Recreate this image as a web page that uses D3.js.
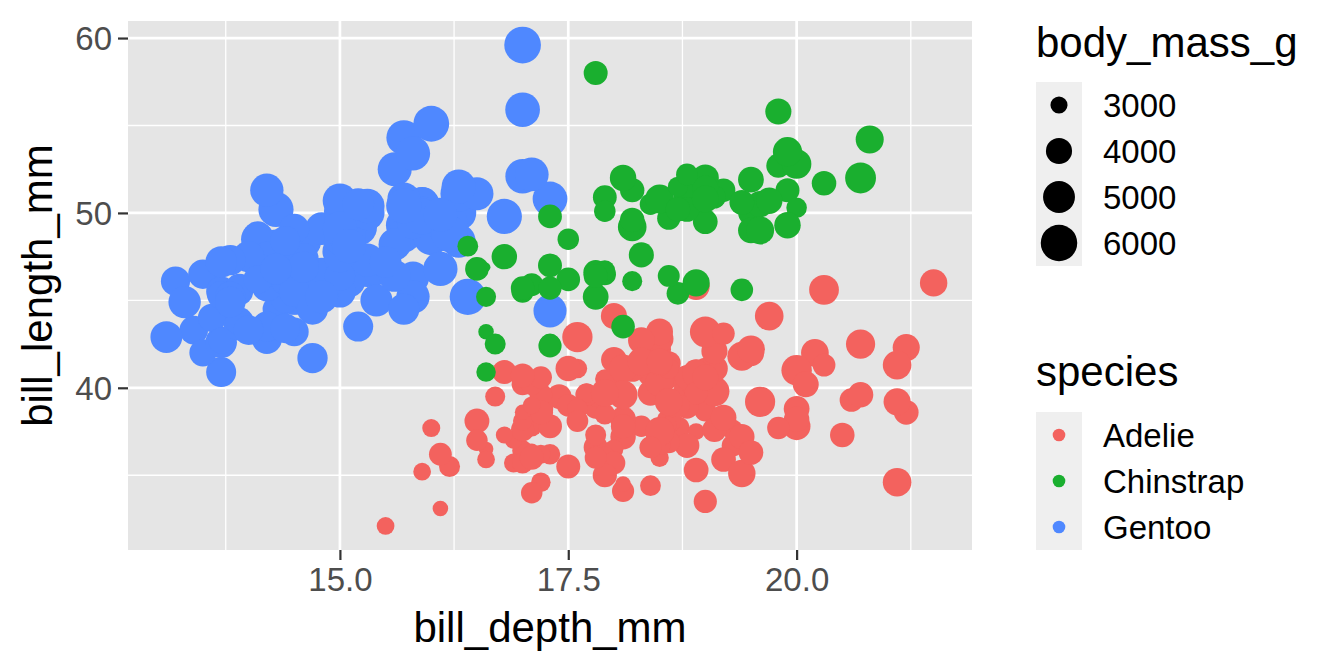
<!DOCTYPE html>
<html>
<head>
<meta charset="utf-8">
<script src="https://cdn.jsdelivr.net/npm/d3@7"></script>
<style>
  body { margin: 0; background: #fff; }
  svg { display: block; font-family: "Liberation Sans", Arial, sans-serif; }
</style>
</head>
<body>
<svg id="chart" width="1344" height="672"></svg>
<script>
// [bill_length_mm, bill_depth_mm, body_mass_g]
const adelie = [
  [39.1,18.7,3750],[39.5,17.4,3800],[40.3,18.0,3250],[36.7,19.3,3450],[39.3,20.6,3650],
  [38.9,17.8,3625],[39.2,19.6,4675],[34.1,18.1,3475],[42.0,20.2,4250],[37.8,17.1,3300],
  [37.8,17.3,3700],[41.1,17.6,3200],[38.6,21.2,3800],[34.6,21.1,4400],[36.6,17.8,3700],
  [38.7,19.0,3450],[42.5,20.7,4500],[34.4,18.4,3325],[46.0,21.5,4200],[37.8,18.3,3400],
  [37.7,18.7,3600],[35.9,19.2,3800],[38.2,18.1,3950],[38.8,17.2,3800],[35.3,18.9,3800],
  [40.6,18.6,3550],[40.5,17.9,3200],[37.9,18.6,3150],[40.5,18.9,3950],[39.5,16.7,3250],
  [37.2,18.1,3900],[39.5,17.8,3300],[40.9,18.9,3900],[36.4,17.0,3325],[39.2,21.1,4150],
  [38.8,20.0,3950],[42.2,18.5,3550],[37.6,19.3,3300],[39.8,19.1,4650],[36.5,18.0,3150],
  [40.8,18.4,3900],[36.0,18.5,3100],[44.1,19.7,4400],[37.0,16.9,3000],[39.6,18.8,4600],
  [41.1,19.0,3425],[37.5,18.9,2975],[36.0,17.9,3450],[42.3,21.2,4150],[39.6,17.7,3500],
  [40.1,18.9,4300],[35.0,17.9,3450],[42.0,19.5,4050],[34.5,18.1,2900],[41.4,18.6,3700],
  [39.0,17.5,3550],[40.6,18.8,3800],[36.5,16.6,2850],[37.6,19.1,3750],[35.7,16.9,3150],
  [41.3,21.1,4400],[37.6,17.0,3600],[41.1,18.2,4050],[36.4,17.1,2850],[41.6,18.0,3950],
  [35.5,16.2,3350],[41.1,19.1,4100],[35.9,16.6,3050],[41.8,19.4,4450],[33.5,19.0,3600],
  [39.7,18.4,3900],[39.6,17.2,3550],[45.8,18.9,4150],[35.5,17.5,3700],[42.8,18.5,4250],
  [40.9,16.8,3700],[37.2,19.4,3900],[36.2,16.1,3550],[42.1,19.1,4000],[34.6,17.2,3200],
  [42.9,17.6,4700],[36.7,18.8,3800],[35.1,19.4,4200],[37.3,17.8,3350],[41.3,20.3,3550],
  [36.3,19.5,3800],[36.9,18.6,3500],[38.3,19.2,3950],[38.9,18.8,3600],[35.7,18.0,3550],
  [41.1,18.1,4300],[34.0,17.1,3400],[39.6,18.1,4450],[36.2,17.3,3300],[40.8,18.9,4300],
  [38.1,18.6,3700],[40.3,18.5,4350],[33.1,16.1,2900],[43.2,18.5,4100],[35.0,17.9,3725],
  [41.0,20.0,4725],[37.7,16.0,3075],[37.8,20.0,4250],[37.9,18.6,2925],[39.7,18.9,3550],
  [38.6,17.2,3750],[38.2,20.0,3900],[38.1,17.0,3175],[43.2,19.0,4775],[38.1,16.5,3825],
  [45.6,20.3,4600],[39.7,17.7,3200],[42.2,19.5,4275],[39.6,20.7,3900],[42.7,18.3,4075],
  [38.6,17.0,2900],[37.3,20.5,3775],[35.7,17.0,3350],[41.1,18.6,3325],[36.2,17.2,3150],
  [37.7,19.8,3500],[40.2,17.0,3450],[41.4,18.5,3875],[35.2,15.9,3050],[40.6,19.0,4000],
  [38.8,17.6,3275],[41.5,18.3,4300],[39.0,17.1,3050],[44.1,18.0,4000],[38.5,17.9,3325],
  [43.1,19.2,3500],[36.8,18.5,3500],[37.5,18.5,4475],[38.1,17.6,3425],[41.1,17.5,3900],
  [35.6,17.5,3175],[40.2,20.1,3975],[37.0,16.5,3400],[39.7,17.9,4250],[40.2,17.1,3400],
  [40.6,17.2,3475],[32.1,15.5,3050],[40.7,17.0,3725],[37.3,16.8,3000],[39.0,18.7,3650],
  [39.2,18.6,4250],[36.6,18.4,3475],[36.0,17.8,3450],[37.8,18.1,3750],[36.0,17.1,3700],
  [41.5,18.5,4000]
];
const gentoo = [
  [46.1,13.2,4500],[50.0,16.3,5700],[48.7,14.1,4450],[50.0,15.2,5700],[47.6,14.5,5400],
  [46.5,13.5,4550],[45.4,14.6,4800],[46.7,15.3,5200],[43.3,13.4,4400],[46.8,15.4,5150],
  [40.9,13.7,4650],[49.0,16.1,5550],[45.5,13.7,4650],[48.4,14.6,5850],[45.8,14.6,4200],
  [49.3,15.7,5850],[42.0,13.5,4150],[49.2,15.2,6300],[46.2,14.5,4800],[48.7,15.1,5350],
  [50.2,14.3,5700],[45.1,14.5,5000],[46.5,14.5,4400],[46.3,15.8,5050],[42.9,13.1,5000],
  [46.1,15.1,5100],[44.5,14.3,4100],[47.8,15.0,5650],[48.2,14.3,4600],[50.0,15.3,5550],
  [47.3,15.3,5250],[42.8,14.2,4700],[45.1,14.5,5050],[59.6,17.0,6050],[49.1,14.8,5150],
  [48.4,16.3,5400],[42.6,13.7,4950],[44.4,17.3,5250],[44.0,13.6,4350],[48.7,15.7,5350],
  [42.7,13.7,3950],[49.6,16.0,5700],[45.3,13.7,4300],[49.6,15.0,4750],[50.5,15.9,5550],
  [43.6,13.9,4900],[45.5,13.9,4200],[50.5,15.9,5400],[44.9,13.3,5100],[45.2,15.8,5300],
  [46.6,14.2,4850],[48.5,14.1,5300],[45.1,14.4,4400],[50.1,15.0,5000],[46.5,14.4,4900],
  [45.0,15.4,5050],[43.8,13.9,4300],[45.5,15.0,5000],[43.2,14.5,4450],[50.4,15.3,5550],
  [45.3,13.8,4200],[46.2,14.9,5300],[45.7,13.9,4400],[54.3,15.7,5650],[45.8,14.2,4700],
  [49.8,16.8,5700],[46.2,14.4,4650],[49.5,16.2,5800],[43.5,14.2,4700],[50.7,15.0,5550],
  [47.7,15.0,4750],[46.4,15.6,5000],[48.2,15.6,5100],[46.5,14.8,5200],[46.4,15.0,4700],
  [48.6,16.0,5800],[47.5,14.2,4600],[51.1,16.3,6000],[45.2,13.8,4750],[45.2,16.4,5950],
  [49.1,14.5,4625],[52.5,15.6,5450],[47.4,14.6,4725],[50.0,15.9,5350],[44.9,13.8,4750],
  [50.8,17.3,5600],[43.4,14.4,4600],[51.3,14.2,5300],[47.5,14.0,4875],[52.1,17.0,5550],
  [47.5,15.0,4950],[52.2,17.1,5400],[45.5,14.5,4750],[49.5,16.1,5650],[44.5,14.7,4850],
  [50.8,15.7,5200],[49.4,15.8,4925],[46.9,14.6,4875],[48.4,14.4,4625],[51.1,16.5,5250],
  [48.5,15.0,4850],[55.9,17.0,5600],[47.2,15.5,4975],[49.1,15.0,5500],[47.3,13.8,4725],
  [46.8,16.1,5500],[41.7,14.7,4700],[53.4,15.8,5500],[43.3,14.0,4575],[48.1,15.1,5500],
  [50.5,15.2,5000],[49.8,15.9,5950],[43.5,15.2,4650],[51.5,16.3,5500],[46.2,14.1,4375],
  [55.1,16.0,5850],[44.5,15.7,4875],[48.8,16.2,6000],[47.2,13.7,4925],[46.8,14.3,4850],
  [50.4,15.7,5750],[45.2,14.8,5200],[49.9,16.1,5400]
];
const chinstrap = [
  [46.5,17.9,3500],[50.0,19.5,3900],[51.3,19.2,3650],[45.4,18.7,3525],[52.7,19.8,3725],
  [45.2,17.8,3950],[46.1,18.2,3250],[51.3,18.2,3750],[46.0,18.9,4150],[51.3,19.9,3700],
  [46.6,17.8,3800],[51.7,20.3,3775],[47.0,17.3,3700],[52.0,18.1,4050],[45.9,17.1,3575],
  [50.5,19.6,4050],[50.3,20.0,3300],[58.0,17.8,3700],[46.4,18.6,3450],[49.2,18.2,4400],
  [42.4,17.3,3600],[48.5,17.5,3400],[43.2,16.6,2900],[50.6,19.4,3800],[46.7,17.9,3300],
  [52.0,19.0,4150],[50.5,18.4,3400],[49.5,19.0,3800],[46.4,17.8,3700],[52.8,20.0,4550],
  [40.9,16.6,3200],[54.2,20.8,4300],[42.5,16.7,3350],[51.0,18.8,4100],[49.7,18.6,3600],
  [47.5,16.8,3900],[47.6,18.3,3850],[52.0,20.7,4800],[46.9,16.6,2700],[53.5,19.9,4500],
  [49.0,19.5,3950],[46.2,17.5,3650],[50.9,19.1,3550],[45.5,17.0,3500],[50.9,17.9,3675],
  [50.8,18.5,4450],[50.1,17.9,3400],[49.0,19.6,4300],[51.5,18.7,3250],[49.8,17.3,3675],
  [48.1,16.4,3325],[51.4,19.0,3950],[45.7,17.3,3600],[50.7,19.7,4050],[42.5,17.3,3350],
  [52.2,18.8,3450],[45.2,16.6,3250],[49.3,19.9,4050],[50.2,18.8,3800],[45.6,19.4,3525],
  [51.9,19.5,3950],[46.8,16.5,3650],[45.7,17.0,3650],[55.8,19.8,4000],[43.5,18.1,3650],
  [49.6,18.2,3775],[50.8,19.0,4100],[50.2,18.7,3775]
];

const species = ['Adelie', 'Chinstrap', 'Gentoo'];
const speciesColors = ['#F3625E', '#1AAF2F', '#4F88FF'];
const xTicks = [15.0, 17.5, 20.0];
const yTicks = [40, 50, 60];
const massBreaks = [3000, 4000, 5000, 6000];

// rows in data order (Adelie, Gentoo, Chinstrap) so Chinstrap is drawn on top
const rows = [];
adelie.forEach(d => rows.push({ species: 'Adelie', len: d[0], dep: d[1], mass: d[2] }));
gentoo.forEach(d => rows.push({ species: 'Gentoo', len: d[0], dep: d[1], mass: d[2] }));
chinstrap.forEach(d => rows.push({ species: 'Chinstrap', len: d[0], dep: d[1], mass: d[2] }));

const svg = d3.select('#chart');
const panel = { left: 128, right: 972, top: 21, bottom: 550 };

function expand(ext) {
  const pad = (ext[1] - ext[0]) * 0.05;
  return [ext[0] - pad, ext[1] + pad];
}

const x = d3.scaleLinear().domain(expand(d3.extent(rows, d => d.dep))).range([panel.left, panel.right]);
const y = d3.scaleLinear().domain(expand(d3.extent(rows, d => d.len))).range([panel.bottom, panel.top]);
const color = d3.scaleOrdinal().domain(species).range(speciesColors);

// ggplot-style area scale: size in mm = 1 + 5*sqrt(rescaled)
const massT = d3.scaleLinear().domain(d3.extent(rows, d => d.mass)).range([0, 1]);
const sizeMm = d3.scaleLinear().domain([0, 1]).range([1, 6]);
const radius = m => (2.9 + 5.8 * sizeMm(Math.sqrt(Math.max(0, massT(m))))) / 2;

// panel background
svg.append('rect')
  .attr('x', panel.left).attr('y', panel.top)
  .attr('width', panel.right - panel.left).attr('height', panel.bottom - panel.top)
  .attr('fill', '#E5E5E5');

// minor grid lines (midpoints between major breaks)
const xMinor = d3.range(13.75, 22, 2.5);
const yMinor = [35, 45, 55];
const grid = svg.append('g');
grid.selectAll('.xminor').data(xMinor).enter().append('line')
  .attr('x1', d => x(d)).attr('x2', d => x(d))
  .attr('y1', panel.top).attr('y2', panel.bottom)
  .attr('stroke', '#fff').attr('stroke-width', 1.3);
grid.selectAll('.yminor').data(yMinor).enter().append('line')
  .attr('y1', d => y(d)).attr('y2', d => y(d))
  .attr('x1', panel.left).attr('x2', panel.right)
  .attr('stroke', '#fff').attr('stroke-width', 1.3);
grid.selectAll('.xmajor').data(xTicks).enter().append('line')
  .attr('x1', d => x(d)).attr('x2', d => x(d))
  .attr('y1', panel.top).attr('y2', panel.bottom)
  .attr('stroke', '#fff').attr('stroke-width', 2.7);
grid.selectAll('.ymajor').data(yTicks).enter().append('line')
  .attr('y1', d => y(d)).attr('y2', d => y(d))
  .attr('x1', panel.left).attr('x2', panel.right)
  .attr('stroke', '#fff').attr('stroke-width', 2.7);

// points
svg.append('g').selectAll('circle')
  .data(rows)
  .enter()
  .append('circle')
  .attr('cx', d => x(d.dep))
  .attr('cy', d => y(d.len))
  .attr('r', d => radius(d.mass))
  .attr('fill', d => color(d.species));

// axes
const xAxis = d3.axisBottom(x).tickValues(xTicks).tickFormat(d3.format('.1f')).tickSize(10).tickPadding(8);
const yAxis = d3.axisLeft(y).tickValues(yTicks).tickFormat(d3.format('d')).tickSize(10).tickPadding(6);

const gx = svg.append('g').attr('transform', `translate(0,${panel.bottom})`).call(xAxis);
const gy = svg.append('g').attr('transform', `translate(${panel.left},0)`).call(yAxis);
[gx, gy].forEach(g => {
  g.select('.domain').remove();
  g.selectAll('.tick line').attr('stroke', '#333').attr('stroke-width', 2.2);
  g.selectAll('.tick text').attr('fill', '#4D4D4D').style('font-size', '33px')
    .style('font-family', '"Liberation Sans", Arial, sans-serif');
});
gx.selectAll('.tick text').attr('dy', '0.71em');
gy.selectAll('.tick text').attr('dy', '0.36em');

// axis titles
svg.append('text')
  .attr('x', (panel.left + panel.right) / 2).attr('y', 642)
  .attr('text-anchor', 'middle').style('font-size', '42px').attr('fill', '#000')
  .text('bill_depth_mm');
svg.append('text')
  .attr('transform', `translate(52,${(panel.top + panel.bottom) / 2}) rotate(-90)`)
  .attr('text-anchor', 'middle').style('font-size', '42px').attr('fill', '#000')
  .text('bill_length_mm');

// size legend
const legX = 1036, keyW = 46, keyH = 46;
svg.append('text').attr('x', legX).attr('y', 57).style('font-size', '42px').text('body_mass_g');
const sizeLeg = svg.append('g').attr('transform', 'translate(0,82)');
sizeLeg.append('rect').attr('x', legX).attr('y', 0)
  .attr('width', keyW).attr('height', keyH * massBreaks.length).attr('fill', '#EFEFEF');
sizeLeg.selectAll('circle').data(massBreaks).enter().append('circle')
  .attr('cx', legX + keyW / 2).attr('cy', (d, i) => i * keyH + keyH / 2)
  .attr('r', d => radius(d)).attr('fill', '#000');
sizeLeg.selectAll('text').data(massBreaks).enter().append('text')
  .attr('x', 1103).attr('y', (d, i) => i * keyH + keyH / 2)
  .attr('dy', '0.36em').style('font-size', '33px').text(d => d);

// species legend
svg.append('text').attr('x', legX).attr('y', 386).style('font-size', '42px').text('species');
const colLeg = svg.append('g').attr('transform', 'translate(0,412)');
colLeg.append('rect').attr('x', legX).attr('y', 0)
  .attr('width', keyW).attr('height', keyH * species.length).attr('fill', '#EFEFEF');
colLeg.selectAll('circle').data(species).enter().append('circle')
  .attr('cx', legX + keyW / 2).attr('cy', (d, i) => i * keyH + keyH / 2)
  .attr('r', 6.3).attr('fill', d => color(d));
colLeg.selectAll('text').data(species).enter().append('text')
  .attr('x', 1103).attr('y', (d, i) => i * keyH + keyH / 2)
  .attr('dy', '0.36em').style('font-size', '33px').text(d => d);
</script>
</body>
</html>
